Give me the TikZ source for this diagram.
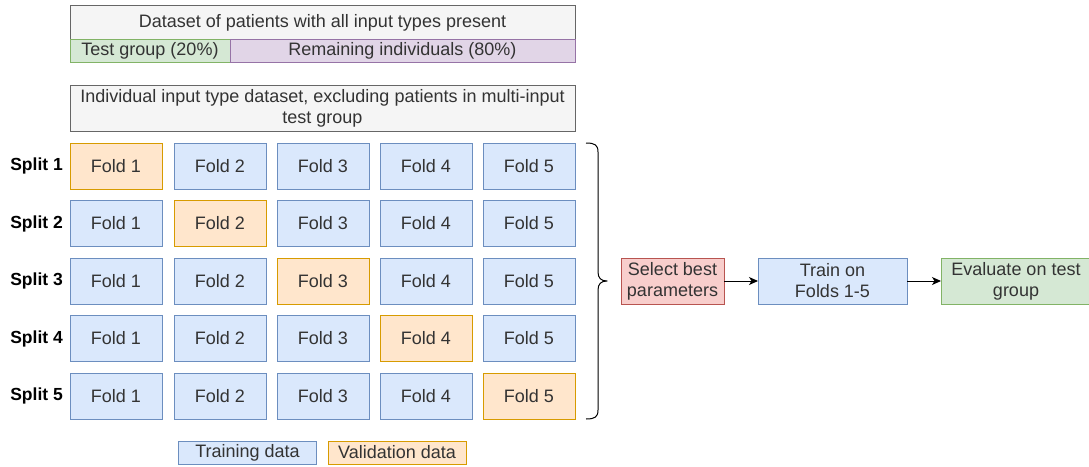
\documentclass[tikz,border=0pt]{standalone}
\usepackage{fontspec}
\setmainfont{Liberation Sans}
\usetikzlibrary{arrows.meta}
\definecolor{bfill}{HTML}{DAE8FC}\definecolor{bdraw}{HTML}{6C8EBF}
\definecolor{ofill}{HTML}{FFE6CC}\definecolor{odraw}{HTML}{D79B00}
\definecolor{gfill}{HTML}{D5E8D4}\definecolor{gdraw}{HTML}{82B366}
\definecolor{pfill}{HTML}{E1D5E7}\definecolor{pdraw}{HTML}{9673A6}
\definecolor{rfill}{HTML}{F8CECC}\definecolor{rdraw}{HTML}{B85450}
\definecolor{grfill}{HTML}{F5F5F5}\definecolor{grdraw}{HTML}{666666}
\definecolor{txt}{HTML}{333333}
\tikzset{
  box/.style={rectangle, inner sep=0pt, outer sep=0pt, line width=1pt, text=txt, align=center,
    font=\fontsize{18}{21}\selectfont},
  train/.style={box, fill=bfill, draw=bdraw, minimum width=92pt, minimum height=46pt},
  valid/.style={box, fill=ofill, draw=odraw, minimum width=92pt, minimum height=46pt},
  graybox/.style={box, fill=grfill, draw=grdraw},
  splitlbl/.style={anchor=east, inner sep=0pt, font=\fontsize{17.5}{21}\selectfont\bfseries},
  arr/.style={line width=1pt, -{Stealth[length=9pt,width=8pt,inset=2.5pt]}},
}
\begin{document}
\begin{tikzpicture}[x=1pt,y=-1pt]
\useasboundingbox (0,0) rectangle (1089,466);
% top dataset
\node[graybox, minimum width=505pt, minimum height=34pt] (all) at (322.5,22.5) {Dataset of patients with all input types present};
\node[box, fill=gfill, draw=gdraw, minimum width=160pt, minimum height=23pt] (test) at (150,51.3) {Test group (20\%)};
\node[box, fill=pfill, draw=pdraw, minimum width=345pt, minimum height=23pt] (rem) at (402.5,51.3) {Remaining individuals (80\%)};
\node[graybox, minimum width=505pt, minimum height=46pt] (indiv) at (322.5,108.7) {Individual input type dataset, excluding patients in multi-input\\test group};
% folds
\foreach \r/\y in {1/166,2/223.5,3/281,4/338.5,5/396}{
  \node[splitlbl] (s\r) at (63,\y) {Split \r};
  \foreach \c/\x in {1/116,2/220,3/323,4/426,5/529}{
    \ifnum\r=\c
      \node[valid] (f\r\c) at (\x,\y) {Fold \c};
    \else
      \node[train] (f\r\c) at (\x,\y) {Fold \c};
    \fi
  }
}
% brace
\coordinate (btop) at (586,143);
\coordinate (bbot) at (586,419);
\coordinate (btip) at (607,281);
\draw[line width=1pt, line join=round] (btop) .. controls (595,143) and (598,145) .. (598,152) -- (598,272)
  .. controls (598,278) and (601,281) .. (btip)
  .. controls (601,281) and (598,284) .. (598,290) -- (598,410)
  .. controls (598,417) and (595,419) .. (bbot);
% pipeline
\node[box, fill=rfill, draw=rdraw, minimum width=103pt, minimum height=46pt] (sel) at (672.5,281) {Select best\\parameters};
\node[box, fill=bfill, draw=bdraw, minimum width=149pt, minimum height=46pt] (trn) at (832.5,281) {Train on\\Folds 1-5};
\node[box, fill=gfill, draw=gdraw, minimum width=150pt, minimum height=46pt] (eva) at (1016,281) {Evaluate on test\\group};
\draw[arr] (sel) -- (trn);
\draw[arr] (trn) -- (eva);
% legend
\node[box, fill=bfill, draw=bdraw, minimum width=138pt, minimum height=23pt] (lt) at (247.5,452.5) {Training data};
\node[box, fill=ofill, draw=odraw, minimum width=138pt, minimum height=23pt] (lv) at (397,452.5) {Validation data};
\end{tikzpicture}
\end{document}
